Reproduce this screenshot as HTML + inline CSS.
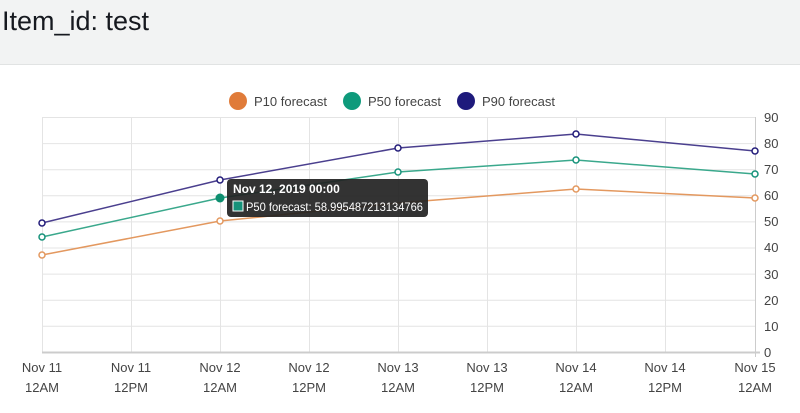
<!DOCTYPE html>
<html><head><style>
body{margin:0;width:800px;height:413px;background:#fff;font-family:"Liberation Sans",sans-serif;overflow:hidden}
.hd{position:absolute;left:0;top:0;width:800px;height:64px;background:#f2f3f3;border-bottom:1px solid #e1e3e3}
.hd span{position:absolute;left:2px;top:6px;font-size:27px;color:#16191f}
</style></head><body>
<div class="hd"><span>Item_id: test</span></div>
<svg width="800" height="413" style="position:absolute;left:0;top:0">
<g font-size="13" fill="#444">
<circle cx="238" cy="101" r="9" fill="#e07b39"/><text x="254" y="106">P10 forecast</text>
<circle cx="352" cy="101" r="9" fill="#0e9a7b"/><text x="368" y="106">P50 forecast</text>
<circle cx="466" cy="101" r="9" fill="#1e1a7c"/><text x="482" y="106">P90 forecast</text>
</g>
<g stroke="#e4e4e4" stroke-width="1">
<line x1="42" x2="755" y1="117.5" y2="117.5"/><line x1="42" x2="755" y1="143.6" y2="143.6"/><line x1="42" x2="755" y1="169.7" y2="169.7"/><line x1="42" x2="755" y1="195.8" y2="195.8"/><line x1="42" x2="755" y1="221.9" y2="221.9"/><line x1="42" x2="755" y1="248" y2="248"/><line x1="42" x2="755" y1="274.1" y2="274.1"/><line x1="42" x2="755" y1="300.2" y2="300.2"/><line x1="42" x2="755" y1="326.3" y2="326.3"/>
<line x1="42.5" x2="42.5" y1="117" y2="352"/><line x1="131.5" x2="131.5" y1="117" y2="352"/><line x1="220.5" x2="220.5" y1="117" y2="352"/><line x1="309.5" x2="309.5" y1="117" y2="352"/><line x1="398.5" x2="398.5" y1="117" y2="352"/><line x1="487.5" x2="487.5" y1="117" y2="352"/><line x1="576.5" x2="576.5" y1="117" y2="352"/><line x1="665.5" x2="665.5" y1="117" y2="352"/><line x1="755.5" x2="755.5" y1="117" y2="357" stroke="#ccc"/>
</g>
<line x1="42" x2="760" y1="352.5" y2="352.5" stroke="#ccc" stroke-width="2"/>
<g font-size="13" fill="#444">
<text x="764" y="122">90</text><text x="764" y="148">80</text><text x="764" y="174">70</text><text x="764" y="200">60</text><text x="764" y="226">50</text><text x="764" y="252">40</text><text x="764" y="279">30</text><text x="764" y="305">20</text><text x="764" y="331">10</text><text x="764" y="357">0</text>
</g>
<g font-size="13" fill="#444" text-anchor="middle">
<text x="42" y="372">Nov 11</text><text x="42" y="392">12AM</text>
<text x="131" y="372">Nov 11</text><text x="131" y="392">12PM</text>
<text x="220" y="372">Nov 12</text><text x="220" y="392">12AM</text>
<text x="309" y="372">Nov 12</text><text x="309" y="392">12PM</text>
<text x="398" y="372">Nov 13</text><text x="398" y="392">12AM</text>
<text x="487" y="372">Nov 13</text><text x="487" y="392">12PM</text>
<text x="576" y="372">Nov 14</text><text x="576" y="392">12AM</text>
<text x="665" y="372">Nov 14</text><text x="665" y="392">12PM</text>
<text x="755" y="372">Nov 15</text><text x="755" y="392">12AM</text>
</g>
<g fill="#fff" stroke-width="1.5">
<polyline fill="none" stroke="#e3985f" points="42,255 220,221 398,203 576,189 755,198"/>
<polyline fill="none" stroke="#3aa88c" points="42,237 220,198 398,172 576,160 755,174"/>
<polyline fill="none" stroke="#4a3f8e" points="42,223 220,180 398,148 576,134 755,151"/>
<g stroke="#e3985f"><circle cx="42" cy="255" r="3"/><circle cx="220" cy="221" r="3"/><circle cx="576" cy="189" r="3"/><circle cx="755" cy="198" r="3"/></g>
<g stroke="#16927a"><circle cx="42" cy="237" r="3"/><circle cx="398" cy="172" r="3"/><circle cx="576" cy="160" r="3"/><circle cx="755" cy="174" r="3"/></g>
<g stroke="#231c7a"><circle cx="42" cy="223" r="3"/><circle cx="220" cy="180" r="3"/><circle cx="398" cy="148" r="3"/><circle cx="576" cy="134" r="3"/><circle cx="755" cy="151" r="3"/></g>
<circle cx="220" cy="198" r="4.5" fill="#0e8f70" stroke="none"/>
</g>
<rect x="227" y="179" width="201" height="38" rx="4" fill="#222" fill-opacity="0.92"/>
<text x="233" y="193" font-size="12" font-weight="bold" fill="#fff">Nov 12, 2019 00:00</text>
<rect x="233" y="201" width="10" height="10" fill="#16927a" stroke="#fff" stroke-width="1"/>
<text x="246" y="211" font-size="12" fill="#fff" textLength="177" lengthAdjust="spacingAndGlyphs">P50 forecast: 58.995487213134766</text>
</svg>
</body></html>
